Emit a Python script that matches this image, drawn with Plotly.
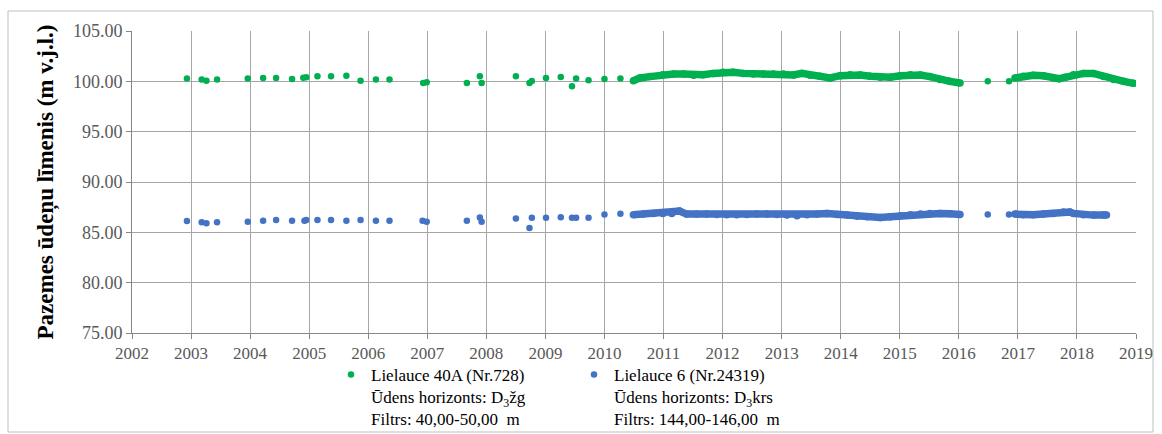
import plotly.graph_objects as go

# ---- tick labels / axis ----
x_ticks = list(range(2002, 2020))
y_ticks = [75, 80, 85, 90, 95, 100, 105]

# ---- Lielauce 40A (Nr.728) : sparse observations ----
green_sparse_year = [2002.93, 2003.18, 2003.26, 2003.44, 2003.96, 2004.22, 2004.44, 2004.71, 2004.90, 2004.95,
                     2005.14, 2005.37, 2005.63, 2005.87, 2006.13, 2006.36, 2006.93, 2006.99, 2007.67, 2007.89,
                     2007.92, 2008.50, 2008.73, 2008.77, 2009.01, 2009.26, 2009.45, 2009.52, 2009.73, 2010.00,
                     2010.27, 2016.49, 2016.85]
green_sparse_level = [100.27, 100.17, 100.07, 100.17, 100.27, 100.33, 100.33, 100.24, 100.35, 100.40,
                      100.50, 100.50, 100.56, 100.07, 100.17, 100.17, 99.84, 99.90, 99.84, 100.50,
                      99.84, 100.50, 99.84, 100.04, 100.33, 100.43, 99.51, 100.27, 100.10, 100.24,
                      100.27, 100.00, 100.00]

# ---- Lielauce 40A : dense monitoring periods ----
green_d1_year = [2010.49, 2010.60, 2010.77, 2010.99, 2011.17, 2011.34, 2011.51, 2011.67, 2011.84, 2012.01,
                 2012.18, 2012.35, 2012.52, 2012.69, 2012.86, 2013.03, 2013.20, 2013.34, 2013.48, 2013.65,
                 2013.82, 2013.99, 2014.16, 2014.33, 2014.50, 2014.67, 2014.84, 2015.01, 2015.18, 2015.35,
                 2015.51, 2015.68, 2015.85, 2016.02]
green_d1_level = [100.07, 100.33, 100.47, 100.66, 100.73, 100.73, 100.60, 100.66, 100.79, 100.89,
                  100.89, 100.79, 100.73, 100.73, 100.73, 100.73, 100.63, 100.79, 100.60, 100.50,
                  100.33, 100.56, 100.66, 100.63, 100.50, 100.40, 100.40, 100.56, 100.66, 100.63,
                  100.47, 100.17, 100.00, 99.84]
green_d2_year = [2016.95, 2017.09, 2017.26, 2017.43, 2017.60, 2017.70, 2017.80, 2017.94, 2018.11, 2018.28,
                 2018.45, 2018.62, 2018.79, 2018.96]
green_d2_level = [100.33, 100.50, 100.60, 100.56, 100.33, 100.26, 100.40, 100.66, 100.79, 100.79,
                  100.47, 100.17, 100.00, 99.80]

# ---- Lielauce 6 (Nr.24319) : sparse observations ----
blue_sparse_year = [2002.93, 2003.18, 2003.26, 2003.44, 2003.96, 2004.22, 2004.44, 2004.71, 2004.92, 2004.95,
                    2005.14, 2005.37, 2005.63, 2005.87, 2006.13, 2006.36, 2006.92, 2006.99, 2007.67, 2007.89,
                    2007.92, 2008.50, 2008.73, 2008.77, 2009.01, 2009.26, 2009.45, 2009.52, 2009.73, 2010.00,
                    2010.27, 2016.49, 2016.85]
blue_sparse_level = [86.12, 85.99, 85.89, 85.99, 86.05, 86.15, 86.22, 86.15, 86.15, 86.22,
                     86.22, 86.22, 86.15, 86.22, 86.15, 86.15, 86.15, 86.05, 86.15, 86.48,
                     86.05, 86.38, 85.43, 86.45, 86.45, 86.51, 86.45, 86.45, 86.45, 86.78,
                     86.84, 86.78, 86.78]

# ---- Lielauce 6 : dense monitoring periods ----
blue_d1_year = [2010.49, 2010.66, 2010.83, 2010.99, 2011.14, 2011.27, 2011.39, 2011.56, 2011.73, 2011.90,
                2012.07, 2012.24, 2012.41, 2012.58, 2012.75, 2012.92, 2013.09, 2013.26, 2013.43, 2013.60,
                2013.77, 2013.94, 2014.11, 2014.28, 2014.45, 2014.67, 2014.84, 2015.01, 2015.18, 2015.35,
                2015.51, 2015.68, 2015.85, 2016.02]
blue_d1_level = [86.74, 86.81, 86.88, 86.88, 86.88, 87.11, 86.81, 86.81, 86.81, 86.78,
                 86.74, 86.74, 86.78, 86.81, 86.81, 86.78, 86.71, 86.64, 86.74, 86.81,
                 86.88, 86.78, 86.71, 86.61, 86.55, 86.48, 86.55, 86.64, 86.74, 86.81,
                 86.88, 86.88, 86.84, 86.78]
blue_d2_year = [2016.95, 2017.09, 2017.26, 2017.43, 2017.60, 2017.77, 2017.88, 2017.94, 2018.11, 2018.28,
                2018.45, 2018.50]
blue_d2_level = [86.81, 86.74, 86.74, 86.81, 86.88, 87.01, 87.01, 86.88, 86.74, 86.71,
                 86.71, 86.71]

green_name = "Lielauce 40A (Nr.728)<br>Ūdens horizonts: D<sub>3</sub>žg<br>Filtrs: 40,00-50,00  m"
blue_name = "Lielauce 6 (Nr.24319)<br>Ūdens horizonts: D<sub>3</sub>krs<br>Filtrs: 144,00-146,00  m"

GREEN = "#00B050"
BLUE = "#4472C4"
SERIF = "Liberation Serif"

fig = go.Figure()

def add_series(name, color, sy, sl, dense):
    fig.add_trace(go.Scatter(x=sy, y=sl, mode="markers", name=name, legendgroup=name,
                             marker=dict(color=color, size=6.5)))
    for yrs, lv in dense:
        fig.add_trace(go.Scatter(x=yrs, y=lv, mode="lines+markers", legendgroup=name, showlegend=False,
                                 line=dict(color=color, width=7.5),
                                 marker=dict(color=color, size=7.5)))

add_series(green_name, GREEN, green_sparse_year, green_sparse_level,
           [(green_d1_year, green_d1_level), (green_d2_year, green_d2_level)])
add_series(blue_name, BLUE, blue_sparse_year, blue_sparse_level,
           [(blue_d1_year, blue_d1_level), (blue_d2_year, blue_d2_level)])

W, H = 1162, 434
L, R, T, B = 132, 26, 31, 101
pw, ph = W - L - R, H - T - B

def px_x(p):
    return (p - L) / pw

def px_y(p):
    return (H - B - p) / ph

fig.update_layout(
    width=W, height=H,
    margin=dict(l=L, r=R, t=T, b=B, autoexpand=False),
    paper_bgcolor="white", plot_bgcolor="white",
    font=dict(family=SERIF, size=17, color="#000000"),
    showlegend=True,
    legend=dict(orientation="h", x=px_x(331), xanchor="left", y=px_y(357), yanchor="top",
                valign="top", entrywidth=198, bgcolor="rgba(0,0,0,0)",
                font=dict(family=SERIF, size=17, color="#000000"),
                tracegroupgap=0),
    shapes=[dict(type="rect", xref="paper", yref="paper",
                 x0=px_x(8), x1=px_x(1153), y0=px_y(432), y1=px_y(11),
                 line=dict(color="#BFBFBF", width=1), fillcolor="rgba(0,0,0,0)", layer="below")],
)

fig.update_xaxes(range=[2002, 2019], tickmode="array", tickvals=x_ticks,
                 ticktext=[str(v) for v in x_ticks],
                 showgrid=True, gridcolor="#A6A6A6", gridwidth=1,
                 showline=True, linecolor="#868686", linewidth=1,
                 ticks="outside", ticklen=5, tickcolor="#868686",
                 tickfont=dict(family=SERIF, size=17, color="#595959"),
                 zeroline=False, automargin=False)
fig.update_yaxes(range=[75, 105], tickmode="array", tickvals=y_ticks,
                 ticktext=[f"{v:.2f}" for v in y_ticks],
                 showgrid=True, gridcolor="#A6A6A6", gridwidth=1,
                 showline=True, linecolor="#868686", linewidth=1,
                 ticks="outside", ticklen=5, tickcolor="#868686",
                 tickfont=dict(family=SERIF, size=18, color="#595959"),
                 title=dict(text="<b>Pazemes ūdeņu līmenis (m v.j.l.)</b>", standoff=12,
                            font=dict(family=SERIF, size=23, color="#000000")),
                 zeroline=False, automargin=False)

fig.write_html("out.html")
